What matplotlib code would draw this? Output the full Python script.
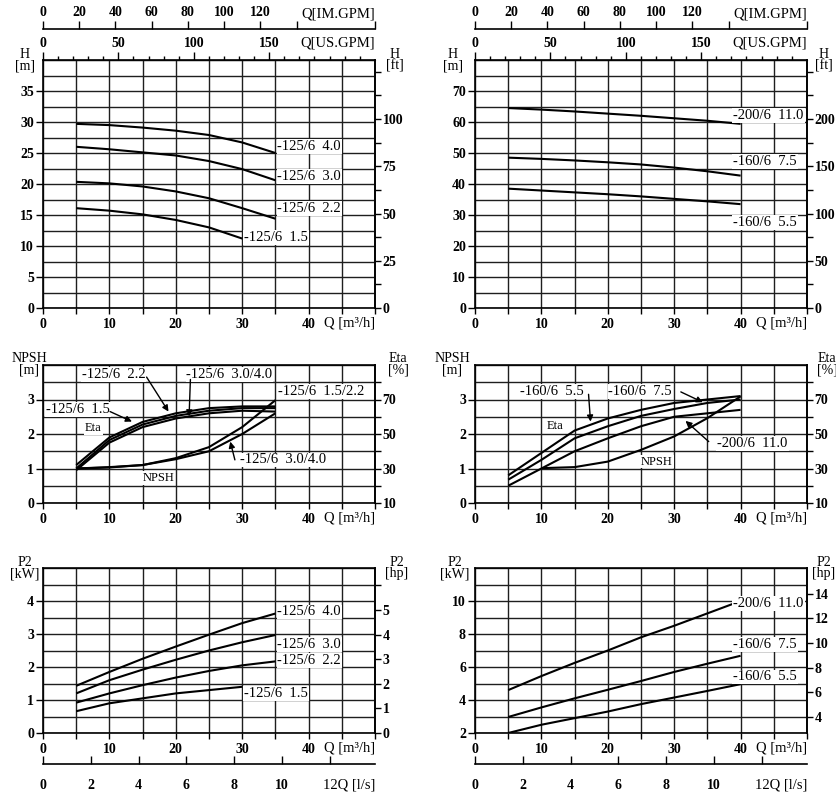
import numpy as np
import matplotlib.pyplot as plt

plt.rcParams['font.family'] = ['Liberation Serif', 'DejaVu Serif']
plt.rcParams['font.size'] = 10

# unit conversions (m3/h per unit)
M3H_USGPM = 0.22712
M3H_IMGPM = 0.27277
M3H_LS = 3.6
M_FT = 0.3048
KW_HP = 0.7457

# ---- data ----
q_125 = [5, 10, 15, 20, 25, 30, 35]
q_125_15 = [5, 10, 15, 20, 25, 30]
q_160 = [5, 10, 15, 20, 25, 30, 35, 40]
q_npsh_160 = [10, 15, 20, 25, 30, 35, 40]

# head [m]
h_125_40 = [29.7, 29.5, 29.1, 28.6, 27.9, 26.7, 25.0]
h_125_30 = [26.0, 25.6, 25.1, 24.6, 23.7, 22.4, 20.6]
h_125_22 = [20.35, 20.1, 19.6, 18.8, 17.7, 16.1, 14.4]
h_125_15 = [16.1, 15.7, 15.1, 14.2, 13.0, 11.2]
h_200_110 = [64.5, 64.0, 63.4, 62.7, 62.0, 61.2, 60.4, 59.4]
h_160_75 = [48.5, 48.1, 47.6, 47.0, 46.3, 45.3, 44.1, 42.7]
h_160_55 = [38.5, 37.9, 37.3, 36.7, 36.0, 35.2, 34.4, 33.5]

# NPSH [m] and efficiency [%]
npsh_125_1522 = [1.0, 1.04, 1.1, 1.3, 1.62, 2.2, 2.98]
npsh_125_3040 = [1.0, 1.03, 1.1, 1.27, 1.5, 2.0, 2.6]
eta_125_15 = [32, 48, 57, 62, 65, 66, 66]
eta_125_22 = [30, 46.5, 55.5, 60.5, 63.5, 65, 65]
eta_125_3040 = [29, 45, 54, 59, 62, 63.5, 63]
npsh_160 = [1.01, 1.04, 1.2, 1.54, 1.93, 2.46, 3.09]
eta_160_55 = [26, 39, 52, 59, 64, 68, 70, 72]
eta_160_75 = [23.5, 35, 47.5, 54.5, 60.5, 64.5, 68, 70]
eta_200_110 = [20, 30, 40, 47.5, 54.5, 60, 62, 64]

# shaft power P2 [kW]
p_125_40 = [1.43, 1.85, 2.25, 2.62, 2.98, 3.33, 3.62]
p_125_30 = [1.2, 1.6, 1.92, 2.22, 2.5, 2.75, 2.97]
p_125_22 = [0.92, 1.2, 1.45, 1.68, 1.88, 2.05, 2.17]
p_125_15 = [0.66, 0.9, 1.05, 1.2, 1.3, 1.4]
p_200_110 = [4.6, 5.45, 6.25, 7.0, 7.8, 8.5, 9.25, 10.0]
p_160_75 = [2.97, 3.55, 4.1, 4.62, 5.15, 5.7, 6.2, 6.68]
p_160_55 = [2.0, 2.5, 2.9, 3.3, 3.75, 4.15, 4.55, 4.96]

W, H = 837, 793
fig = plt.figure(figsize=(W/100, H/100), dpi=100)

def px(x, y):
    return x / W, 1 - y / H

def box(x0, top, bot):  # pixel bounds -> axes rect
    return [x0 / W, 1 - bot / H, 332 / W, (bot - top) / H]

GRID = '#1e1e1e'
LW = 1.5
BOX = dict(fc='white', ec='none', pad=0.6)

def bold(ax):
    for t in ax.get_xticklabels() + ax.get_yticklabels():
        t.set_fontweight('bold')

def frame(ax, ylim, ymaj, ymin):
    ax.set_xlim(0, 50)
    ax.set_ylim(*ylim)
    ax.set_xticks(np.arange(0, 51, 5))
    ax.set_xticklabels([str(v) if v % 10 == 0 and v < 50 else '' for v in range(0, 51, 5)])
    ax.set_yticks(ymaj)
    ax.set_yticks(ymin, minor=True)
    ax.grid(which='both', color=GRID, lw=1.0)
    ax.tick_params(axis='x', direction='out', length=4, width=1, pad=3)
    ax.tick_params(axis='y', which='major', direction='out', length=5, width=1, pad=1.5)
    ax.tick_params(axis='y', which='minor', length=0)
    for s in ax.spines.values():
        s.set_linewidth(1.2)
    bold(ax)

def right_axis(ax, fwd, inv, maj, labels, mnr=None):
    sec = ax.secondary_yaxis('right', functions=(fwd, inv))
    sec.set_yticks(maj, labels=labels)
    if mnr is not None:
        sec.set_yticks(mnr, minor=True)
    sec.tick_params(which='both', direction='out', length=4, width=1, pad=1.5)
    sec.spines['right'].set_linewidth(1.2)
    bold(sec)
    return sec

def gpm_axes(ax, x0):
    top = ax.secondary_xaxis('top', functions=(lambda q: q / M3H_USGPM, lambda g: g * M3H_USGPM))
    top.set_xticks([0, 50, 100, 150])
    top.set_xticks(np.arange(10, 220, 10), minor=True)
    top.tick_params(which='major', direction='out', length=6, width=1, pad=1)
    top.tick_params(which='minor', direction='out', length=3, width=1)
    bold(top)
    fig.text(*px(x0 + 332, 43), 'Q[US.GPM]', ha='right', va='center', fontsize=10.5)
    im = fig.add_axes([x0 / W, 1 - 29 / H, 332 / W, 1e-5])
    im.set_xlim(0, 50 / M3H_IMGPM)
    im.set_yticks([])
    for s in ['left', 'right', 'bottom']:
        im.spines[s].set_visible(False)
    im.spines['top'].set_linewidth(1.2)
    im.xaxis.tick_top()
    ticks = list(range(0, 141, 20)) + [50 / M3H_IMGPM]
    im.set_xticks(ticks, labels=[str(t) for t in range(0, 121, 20)] + ['', ''])
    im.tick_params(direction='out', length=6, width=1, pad=1)
    im.patch.set_visible(False)
    bold(im)
    fig.text(*px(x0 + 332, 14), 'Q[IM.GPM]', ha='right', va='center', fontsize=10.5)

def ls_axis(x0):
    ls = fig.add_axes([x0 / W, 1 - 764 / H, 332 / W, 1e-5])
    ls.set_xlim(0, 50 / M3H_LS)
    ls.set_yticks([])
    for s in ['left', 'right', 'top']:
        ls.spines[s].set_visible(False)
    ls.spines['bottom'].set_linewidth(1.2)
    ls.set_xticks(range(0, 13, 2), labels=[str(t) for t in range(0, 11, 2)] + [''])
    ls.tick_params(direction='in', length=6, width=1, pad=11)
    ls.patch.set_visible(False)
    bold(ls)
    fig.text(*px(x0 + 332, 785), '12Q [l/s]', ha='right', va='center', fontsize=10.5)

def qlabel(x0, y):
    fig.text(*px(x0 + 332, y), 'Q [m³/h]', ha='right', va='center', fontsize=10.5)

def unit(x, y, a, b):
    fig.text(*px(x, y), a, ha='center', va='center', fontsize=10)
    fig.text(*px(x, y + 12), b, ha='center', va='center', fontsize=10)

def curve(ax, q, v):
    ax.plot(q, v, color='black', lw=LW, solid_capstyle='butt', zorder=3)

def tag(ax, s, x, y):
    ax.text(x, y, s, ha='left', va='center', fontsize=10.5, bbox=BOX, zorder=4)

def arrow(ax, start, end):
    ax.annotate('', xy=end, xytext=start, zorder=5,
                arrowprops=dict(arrowstyle='-|>', lw=1.0, color='black',
                                mutation_scale=9, shrinkA=0, shrinkB=0))

LX, RX = 43, 475

# ---------------- head ----------------
ax = fig.add_axes(box(LX, 60, 308))
frame(ax, (0, 40), np.arange(0, 36, 5), np.arange(2.5, 40.1, 2.5))
right_axis(ax, lambda m: m / M_FT, lambda f: f * M_FT,
           [0, 25, 50, 75, 100, 125], ['0', '25', '50', '75', '100', ''],
           [12.5, 37.5, 62.5, 87.5, 112.5])
gpm_axes(ax, LX)
for v in (h_125_40, h_125_30, h_125_22):
    curve(ax, q_125, v)
curve(ax, q_125_15, h_125_15)
tag(ax, '-125/6  4.0', 35.3, 26.0)
tag(ax, '-125/6  3.0', 35.3, 21.15)
tag(ax, '-125/6  2.2', 35.3, 16.1)
tag(ax, '-125/6  1.5', 30.3, 11.35)
unit(25, 54, 'H', '[m]')
unit(395, 54, 'H', '[ft]')
qlabel(LX, 323)

ax = fig.add_axes(box(RX, 60, 308))
frame(ax, (0, 80), np.arange(0, 71, 10), np.arange(5, 80.1, 5))
right_axis(ax, lambda m: m / M_FT, lambda f: f * M_FT,
           [0, 50, 100, 150, 200, 250], ['0', '50', '100', '150', '200', ''],
           [25, 75, 125, 175, 225])
gpm_axes(ax, RX)
for v in (h_200_110, h_160_75, h_160_55):
    curve(ax, q_160, v)
tag(ax, '-200/6  11.0', 38.9, 62.0)
tag(ax, '-160/6  7.5', 38.9, 47.2)
tag(ax, '-160/6  5.5', 38.9, 27.7)
unit(453, 54, 'H', '[m]')
unit(824, 54, 'H', '[ft]')
qlabel(RX, 323)

# ---------------- NPSH / efficiency ----------------
e2n = lambda e: (np.asarray(e, dtype=float) - 10) / 20
n2e = lambda n: 10 + 20 * np.asarray(n, dtype=float)

ax = fig.add_axes(box(LX, 365, 503))
frame(ax, (0, 4), [0, 1, 2, 3], [0.5, 1.5, 2.5, 3.5, 4])
right_axis(ax, n2e, e2n, [10, 30, 50, 70], ['10', '30', '50', '70'], [20, 40, 60, 80])
curve(ax, q_125, npsh_125_1522)
curve(ax, q_125, npsh_125_3040)
for v in (eta_125_15, eta_125_22, eta_125_3040):
    curve(ax, q_125, e2n(v))
tag(ax, '-125/6  2.2', 5.8, 3.72)
tag(ax, '-125/6  3.0/4.0', 21.6, 3.72)
tag(ax, '-125/6  1.5/2.2', 35.4, 3.24)
tag(ax, '-125/6  1.5', 0.5, 2.7)
tag(ax, '-125/6  3.0/4.0', 29.7, 1.25)
ax.text(7.6, 2.17, 'Eta', ha='center', va='center', fontsize=9, bbox=BOX, zorder=4)
ax.text(17.4, 0.72, 'NPSH', ha='center', va='center', fontsize=9, bbox=BOX, zorder=4)
arrow(ax, (15.6, 3.65), (18.9, 2.65))
arrow(ax, (22.2, 3.58), (22.0, 2.51))
arrow(ax, (10.1, 2.65), (13.4, 2.36))
arrow(ax, (28.9, 1.25), (28.2, 1.78))
unit(29, 358, 'NPSH', '[m]')
unit(398, 358, 'Eta', '[%]')
qlabel(LX, 518)

ax = fig.add_axes(box(RX, 365, 503))
frame(ax, (0, 4), [0, 1, 2, 3], [0.5, 1.5, 2.5, 3.5, 4])
right_axis(ax, n2e, e2n, [10, 30, 50, 70], ['10', '30', '50', '70'], [20, 40, 60, 80])
curve(ax, q_npsh_160, npsh_160)
for v in (eta_160_55, eta_160_75, eta_200_110):
    curve(ax, q_160, e2n(v))
tag(ax, '-160/6  5.5', 6.8, 3.24)
tag(ax, '-160/6  7.5', 20.1, 3.24)
tag(ax, '-200/6  11.0', 36.5, 1.73)
ax.text(12.1, 2.22, 'Eta', ha='center', va='center', fontsize=9, bbox=BOX, zorder=4)
ax.text(27.4, 1.2, 'NPSH', ha='center', va='center', fontsize=9, bbox=BOX, zorder=4)
arrow(ax, (17.1, 3.15), (17.4, 2.36))
arrow(ax, (31.0, 3.22), (34.3, 2.92))
arrow(ax, (35.2, 1.78), (31.7, 2.38))
unit(452, 358, 'NPSH', '[m]')
unit(827, 358, 'Eta', '[%]')
qlabel(RX, 518)

# ---------------- power ----------------
ax = fig.add_axes(box(LX, 568, 733))
frame(ax, (0, 5), [0, 1, 2, 3, 4], np.arange(0.5, 5.01, 0.5))
right_axis(ax, lambda k: k / KW_HP, lambda h: h * KW_HP,
           list(range(0, 7)), ['0', '1', '2', '3', '4', '5', ''])
for v in (p_125_40, p_125_30, p_125_22):
    curve(ax, q_125, v)
curve(ax, q_125_15, p_125_15)
tag(ax, '-125/6  4.0', 35.3, 3.67)
tag(ax, '-125/6  3.0', 35.3, 2.69)
tag(ax, '-125/6  2.2', 35.3, 2.2)
tag(ax, '-125/6  1.5', 30.3, 1.2)
unit(25, 562, 'P2', '[kW]')
unit(397, 562, 'P2', '[hp]')
qlabel(LX, 748)
ls_axis(LX)

ax = fig.add_axes(box(RX, 568, 733))
frame(ax, (2, 12), [2, 4, 6, 8, 10], [3, 5, 7, 9, 11, 12])
right_axis(ax, lambda k: k / KW_HP, lambda h: h * KW_HP,
           [4, 6, 8, 10, 12, 14], ['4', '6', '8', '10', '12', '14'])
for v in (p_200_110, p_160_75, p_160_55):
    curve(ax, q_160, v)
tag(ax, '-200/6  11.0', 38.9, 9.85)
tag(ax, '-160/6  7.5', 38.9, 7.38)
tag(ax, '-160/6  5.5', 38.9, 5.4)
unit(455, 562, 'P2', '[kW]')
unit(824, 562, 'P2', '[hp]')
qlabel(RX, 748)
ls_axis(RX)

fig.savefig('out.png', dpi=100)
